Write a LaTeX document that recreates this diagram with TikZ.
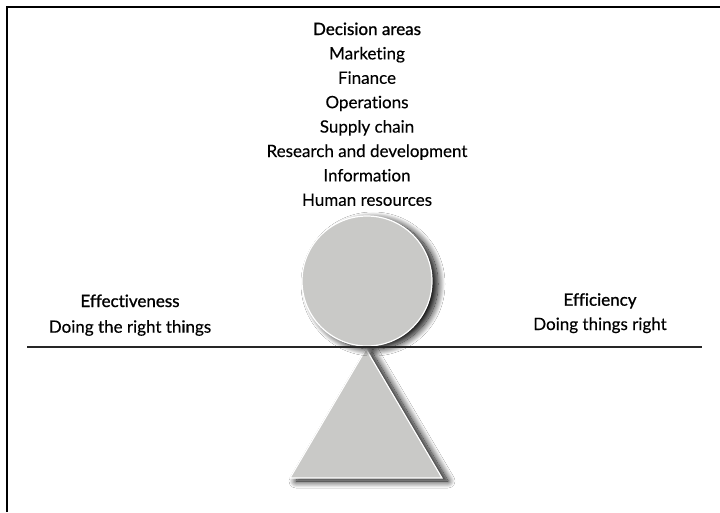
\documentclass[tikz,border=0pt]{standalone}
\usepackage{fontspec}
\setmainfont[Ligatures=NoCommon, FakeBold=0.25]{Lato}
\newfontfamily\headfont[Ligatures=NoCommon, FakeBold=1.1]{Lato}
\usetikzlibrary{shadows.blur}
\definecolor{shapegray}{HTML}{C9C9C7}
\tikzset{
  lbl/.style={anchor=base, inner sep=0pt, font=\fontsize{17}{20}\selectfont},
  head/.style={lbl, font=\fontsize{17}{20}\selectfont\headfont},
  shapefill/.style={fill=shapegray, draw=white, line width=1.2pt,
    blur shadow={shadow xshift=6pt, shadow yshift=-3pt, shadow blur radius=7pt, shadow blur steps=16, shadow opacity=100}},
}
\begin{document}
\begin{tikzpicture}[x=1pt,y=-1pt]
\useasboundingbox (0,0) rectangle (720,512);
\fill[white] (0,0) rectangle (720,512);
% frame
\draw[line width=2pt] (7,512) -- (7,7) -- (720,7);
% text
\node[head] (da) at (367,35) {Decision areas};
\node[lbl] (mk) at (367,59.4) {Marketing};
\node[lbl] (fi) at (367,83.8) {Finance};
\node[lbl] (op) at (367,108.2) {Operations};
\node[lbl] (sc) at (367,132.6) {Supply chain};
\node[lbl] (rd) at (367,157) {Research and development};
\node[lbl] (in) at (367,181.4) {Information};
\node[lbl] (hr) at (367,205.8) {Human resources};
% shapes
\path[shapefill] (290,478) -- (366,349) -- (442,478) -- cycle;
\node[shapefill, circle, minimum size=130pt, inner sep=0pt] (ball) at (367,281) {};
% beam
\coordinate (bl) at (27,347);
\coordinate (br) at (702,347);
\draw[line width=1.4pt, black!85] (bl) -- (br);
% side labels
\node[head] (eff) at (130,307) {Effectiveness};
\node[lbl] (effd) at (130,332.7) {Doing the right things};
\node[head] (efc) at (600,305.7) {Efficiency};
\node[lbl] (efcd) at (600,330) {Doing things right};
\end{tikzpicture}
\end{document}
